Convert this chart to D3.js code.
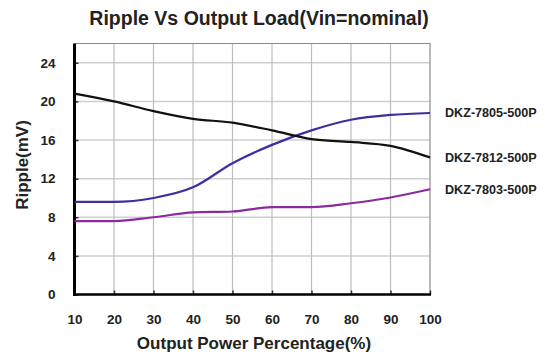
<!DOCTYPE html>
<html>
<head>
<meta charset="utf-8">
<script src="https://cdn.jsdelivr.net/npm/d3@7"></script>
<style>
  body { margin: 0; background: #fff; }
  svg text { font-family: "Liberation Sans", Arial, sans-serif; font-weight: bold; fill: #222; }
</style>
</head>
<body>
<svg id="chart" width="551" height="354"></svg>
<script>
// data
var loads = [10, 20, 30, 40, 50, 60, 70, 80, 90, 100];
var ripple7805 = [9.6, 9.6, 10.0, 11.1, 13.6, 15.5, 17.0, 18.1, 18.6, 18.8];
var ripple7812 = [20.8, 20.0, 19.0, 18.2, 17.8, 17.0, 16.1, 15.8, 15.4, 14.2];
var ripple7803 = [7.6, 7.6, 8.0, 8.5, 8.6, 9.05, 9.05, 9.45, 10.05, 10.9];
var seriesNames = ["DKZ-7805-500P", "DKZ-7812-500P", "DKZ-7803-500P"];
var yTicks = [0, 4, 8, 12, 16, 20, 24];

var svg = d3.select("#chart");
// plot box (window.top is reserved, so use own names)
var pLeft = 74.5, pRight = 430, pTop = 43.5, pBottom = 294.5;

var x = d3.scaleLinear().domain([10, 100]).range([pLeft, pRight]);
var y = d3.scaleLinear().domain([0, 26]).range([pBottom, pTop]);

// grid
svg.append("g").selectAll("line").data(yTicks.slice(1))
  .enter().append("line")
  .attr("x1", pLeft).attr("x2", pRight)
  .attr("y1", function(d) { return y(d); }).attr("y2", function(d) { return y(d); })
  .attr("stroke", "#cfcfcf").attr("stroke-width", 1.5);
svg.append("g").selectAll("line").data(loads.slice(1, -1))
  .enter().append("line")
  .attr("x1", function(d) { return x(d); }).attr("x2", function(d) { return x(d); })
  .attr("y1", pTop).attr("y2", pBottom)
  .attr("stroke", "#bdbdbd").attr("stroke-width", 1.2);

// top / right border
svg.append("path")
  .attr("d", "M" + pLeft + "," + pTop + "H" + pRight + "V" + pBottom)
  .attr("fill", "none").attr("stroke", "#8c8c8c").attr("stroke-width", 1.2);

// axes
var yAxis = d3.axisLeft(y).tickValues(yTicks).tickSize(-4).tickPadding(18);
var gy = svg.append("g").attr("transform", "translate(" + pLeft + ",0)").call(yAxis);
var xAxis = d3.axisBottom(x).tickValues(loads).tickSize(-4).tickPadding(20);
var gx = svg.append("g").attr("transform", "translate(0," + pBottom + ")").call(xAxis);
[gy, gx].forEach(function(g) {
  g.select(".domain").remove();
  g.selectAll(".tick line").attr("stroke", "#333").attr("stroke-width", 1.5);
  g.selectAll(".tick text").attr("font-size", 13.5).attr("fill", "#222")
    .style("font-family", "Liberation Sans, Arial, sans-serif").style("font-weight", "bold");
});
gy.selectAll(".tick text").attr("x", -19);

svg.append("line").attr("x1", pLeft).attr("x2", pLeft).attr("y1", pTop).attr("y2", pBottom + 1.5)
  .attr("stroke", "#000").attr("stroke-width", 3);
svg.append("line").attr("x1", pLeft - 1.5).attr("x2", pRight + 1).attr("y1", pBottom).attr("y2", pBottom)
  .attr("stroke", "#000").attr("stroke-width", 2.5);

// curves
var line = d3.line()
  .x(function(d, i) { return x(loads[i]); })
  .y(function(d) { return y(d); })
  .curve(d3.curveMonotoneX);

var series = [
  { values: ripple7805, color: "#3d2f9c" },
  { values: ripple7812, color: "#111111" },
  { values: ripple7803, color: "#8b2a9e" }
];
series.forEach(function(s) {
  svg.append("path").datum(s.values)
    .attr("d", line)
    .attr("fill", "none")
    .attr("stroke", s.color)
    .attr("stroke-width", 2.2);
});

// labels at right
var labelY = [113, 158, 190];
svg.append("g").selectAll("text").data(seriesNames)
  .enter().append("text")
  .attr("x", 445)
  .attr("y", function(d, i) { return labelY[i]; })
  .attr("dy", "0.35em")
  .attr("font-size", 12.6)
  .text(function(d) { return d; });

// titles
svg.append("text").attr("x", 259).attr("y", 25)
  .attr("text-anchor", "middle").attr("font-size", 19.5)
  .text("Ripple Vs Output Load(Vin=nominal)");
svg.append("text").attr("x", 254).attr("y", 349)
  .attr("text-anchor", "middle").attr("font-size", 17)
  .text("Output Power Percentage(%)");
svg.append("text")
  .attr("transform", "translate(28,165) rotate(-90)")
  .attr("text-anchor", "middle").attr("font-size", 17)
  .text("Ripple(mV)");
</script>
</body>
</html>
